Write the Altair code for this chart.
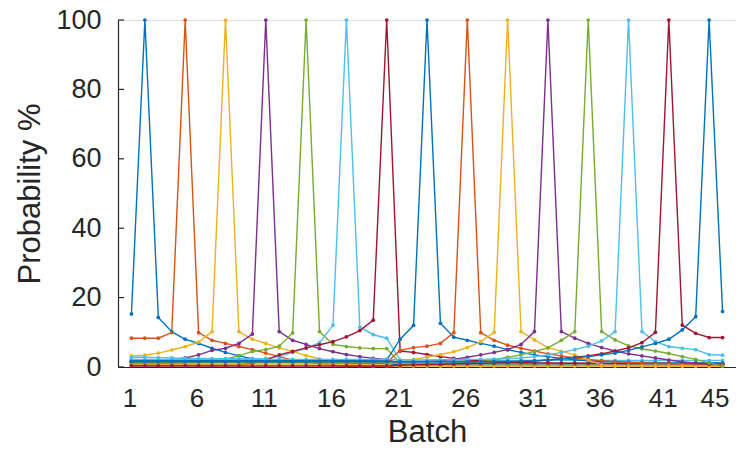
import altair as alt
import pandas as pd

batches = list(range(1, 46))

s1 = [15.3, 100, 14.3, 10.2, 8.0, 6.8, 5.4, 4.2, 3.2, 2.4, 1.9, 1.6, 1.4, 1.3, 1.2, 1.2, 1.1, 1.1, 1.0, 1.0,
      0.5, 0.5, 0.5, 0.5, 0.5, 0.5, 0.5, 0.5, 0.5, 0.5, 0.5, 0.5, 0.5, 0.5, 0.5, 0.5, 0.5, 0.5, 0.5, 0.5, 0.5, 0.5, 0.5, 0.5, 0.5]
s2 = [8.3, 8.3, 8.3, 9.9, 100, 9.9, 7.7, 6.8, 5.9, 5.0, 4.0, 3.0, 2.0, 1.5, 1.0, 0.5, 0.3, 0.3, 0.3, 0.3,
      0.4, 0.4, 0.4, 0.4, 0.4, 0.4, 0.4, 0.4, 0.4, 0.4, 0.4, 0.4, 0.4, 0.4, 0.4, 0.4, 0.4, 0.4, 0.4, 0.4, 0.4, 0.4, 0.4, 0.4, 0.4]
s3 = [3.2, 3.4, 4.0, 4.9, 5.9, 7.2, 10.2, 100, 10.2, 8.0, 6.8, 5.5, 4.5, 3.3, 2.3, 1.5, 0.9, 0.5, 0.3, 0.3,
      0.3, 0.3, 0.3, 0.3, 0.3, 0.3, 0.3, 0.3, 0.3, 0.3, 0.3, 0.3, 0.3, 0.3, 0.3, 0.3, 0.3, 0.3, 0.3, 0.3, 0.3, 0.3, 0.3, 0.3, 0.3]
s4 = [1.5, 1.6, 1.8, 2.1, 2.6, 3.5, 4.8, 5.4, 6.8, 9.5, 100, 10.2, 7.7, 6.5, 5.3, 4.4, 3.6, 3.0, 2.5, 2.2,
      1.0, 1.0, 1.0, 1.0, 1.0, 1.0, 1.0, 1.0, 1.0, 1.0, 1.0, 1.0, 1.0, 1.0, 1.0, 1.0, 1.0, 1.0, 1.0, 1.0, 1.0, 1.0, 1.0, 1.0, 1.0]
s5 = [1.0, 1.0, 1.1, 1.1, 1.2, 1.3, 1.6, 2.3, 3.2, 4.5, 5.0, 6.0, 9.8, 100, 10.2, 6.5, 5.9, 5.5, 5.3, 5.3,
      1.0, 0.9, 0.9, 0.9, 0.9, 0.9, 0.9, 0.9, 0.9, 0.9, 0.9, 0.9, 0.9, 0.9, 0.9, 0.9, 0.9, 0.9, 0.9, 0.9, 0.9, 0.9, 0.9, 0.9, 0.9]
s6 = [2.8, 2.8, 2.7, 2.6, 2.5, 2.5, 2.4, 2.4, 2.4, 2.4, 2.5, 3.0, 4.2, 5.4, 7.0, 12.0, 100, 11.5, 9.3, 8.3,
      2.0, 1.9, 1.9, 1.9, 1.9, 1.9, 1.9, 1.9, 1.9, 1.9, 1.9, 1.9, 1.9, 1.9, 1.9, 1.9, 1.9, 1.9, 1.9, 1.9, 1.9, 1.9, 1.9, 1.9, 1.9]
s7 = [0.5, 0.5, 0.5, 0.5, 0.5, 0.5, 0.5, 0.5, 0.6, 1.0, 2.0, 3.5, 4.5, 5.5, 6.4, 7.3, 8.7, 10.5, 13.5, 100,
      4.6, 4.2, 3.6, 3.0, 2.5, 2.1, 1.8, 1.6, 1.4, 1.3, 1.2, 1.2, 1.1, 1.1, 1.1, 1.0, 1.0, 1.0, 1.0, 1.0, 1.0, 1.0, 1.0, 1.0, 1.0]
s8 = [1.8, 1.8, 1.8, 1.8, 1.8, 1.8, 1.8, 1.8, 1.8, 1.8, 1.8, 1.8, 1.8, 1.8, 1.8, 1.8, 1.8, 1.8, 1.9, 2.0,
      8.0, 12.0, 100, 12.6, 8.6, 7.7, 6.8, 6.0, 5.0, 4.2, 3.5, 3.0, 2.5, 2.1, 1.8, 1.6, 1.5, 1.4, 1.3, 1.3, 1.2, 1.2, 1.2, 1.2, 1.2]
s9 = [1.3, 1.3, 1.3, 1.3, 1.3, 1.3, 1.3, 1.3, 1.3, 1.3, 1.3, 1.3, 1.3, 1.3, 1.3, 1.3, 1.3, 1.3, 1.3, 1.3,
      4.8, 5.6, 6.0, 6.8, 9.9, 100, 9.9, 7.7, 6.3, 5.4, 4.6, 3.8, 3.2, 2.6, 2.2, 1.8, 1.5, 1.3, 1.2, 1.1, 1.0, 0.9, 0.8, 0.8, 0.8]
s10 = [0.6, 0.6, 0.6, 0.6, 0.6, 0.6, 0.6, 0.6, 0.6, 0.6, 0.6, 0.6, 0.6, 0.6, 0.6, 0.6, 0.6, 0.6, 0.6, 0.6,
       1.5, 2.2, 2.9, 3.6, 4.4, 5.6, 7.3, 10.0, 100, 10.2, 7.8, 5.6, 4.5, 3.5, 2.0, 0.6, 0.4, 0.3, 0.3, 0.3, 0.3, 0.3, 0.3, 0.3, 0.3]
s11 = [1.5, 1.5, 1.5, 1.5, 1.5, 1.5, 1.5, 1.5, 1.5, 1.5, 1.5, 1.5, 1.5, 1.5, 1.5, 1.5, 1.5, 1.5, 1.5, 1.5,
       1.5, 1.5, 1.6, 1.8, 2.2, 2.8, 3.5, 4.2, 5.0, 6.5, 10.2, 100, 10.2, 8.3, 6.8, 5.6, 4.6, 3.8, 3.2, 2.6, 2.0, 1.5, 1.1, 0.8, 0.7]
s12 = [1.2, 1.2, 1.2, 1.2, 1.2, 1.2, 1.2, 1.2, 1.2, 1.2, 1.2, 1.2, 1.2, 1.2, 1.2, 1.2, 1.2, 1.2, 1.2, 1.2,
       1.0, 1.0, 1.0, 1.1, 1.2, 1.3, 1.5, 2.0, 2.8, 3.5, 4.5, 5.5, 7.7, 10.2, 100, 10.2, 7.8, 6.1, 5.2, 4.6, 3.9, 3.0, 2.2, 1.2, 0.3]
s13 = [2.2, 2.2, 2.2, 2.2, 2.2, 2.2, 2.2, 2.2, 2.2, 2.2, 2.2, 2.2, 2.2, 2.2, 2.2, 2.2, 2.2, 2.2, 2.2, 2.2,
       2.0, 2.0, 2.0, 2.1, 2.1, 2.2, 2.2, 2.3, 2.4, 2.6, 3.0, 3.5, 4.2, 5.0, 6.0, 7.5, 10.2, 100, 10.2, 7.3, 5.9, 5.4, 5.0, 3.6, 3.4]
s14 = [0.3, 0.3, 0.3, 0.3, 0.3, 0.3, 0.3, 0.3, 0.3, 0.3, 0.3, 0.3, 0.3, 0.3, 0.3, 0.3, 0.3, 0.3, 0.3, 0.3,
       0.5, 0.6, 0.7, 0.8, 0.9, 1.0, 1.1, 1.2, 1.3, 1.5, 1.7, 2.0, 2.4, 2.8, 3.2, 3.8, 4.6, 5.5, 7.0, 10.0, 100, 12.1, 9.7, 8.5, 8.5]
s15 = [1.6, 1.6, 1.6, 1.6, 1.6, 1.6, 1.6, 1.6, 1.6, 1.6, 1.6, 1.6, 1.6, 1.6, 1.6, 1.6, 1.6, 1.6, 1.6, 1.6,
       1.5, 1.5, 1.5, 1.5, 1.5, 1.5, 1.5, 1.6, 1.6, 1.7, 1.8, 2.0, 2.3, 2.7, 3.0, 3.5, 4.0, 4.8, 5.8, 6.8, 8.0, 10.7, 14.5, 100, 16.0]

series = [s1, s2, s3, s4, s5, s6, s7, s8, s9, s10, s11, s12, s13, s14, s15]
names = [f"S{i}" for i in range(1, 16)]
palette = ["#0072BD", "#D95319", "#EDB120", "#7E2F8E", "#77AC30", "#4DBEEE", "#A2142F"]
color_range = [palette[i % 7] for i in range(len(names))]

x_ticks = [1, 6, 11, 16, 21, 26, 31, 36, 41, 45]
y_ticks = [0, 20, 40, 60, 80, 100]

rows = []
for n, vals in zip(names, series):
    for b, v in zip(batches, vals):
        rows.append({"batch": b, "prob": v, "series": n})
df = pd.DataFrame(rows)

FONT = "Liberation Sans"
INK = "#262626"

xscale = alt.Scale(domain=[0, 46], nice=False, zero=False)
yscale = alt.Scale(domain=[0, 100], nice=False)

x_label_offset = {
    "condition": [
        {"test": "datum.value == 45", "value": -8},
        {"test": "datum.value == 41", "value": -6},
    ],
    "value": -2,
}

lines = alt.Chart(df).mark_line(
    strokeWidth=1.4, point=alt.OverlayMarkDef(filled=True, size=14)
).encode(
    x=alt.X("batch:Q", scale=xscale,
            axis=alt.Axis(values=x_ticks, title="Batch", grid=False, tickSize=0,
                          labelPadding=18, titlePadding=6, labelFontSize=26, titleFontSize=31,
                          labelFont=FONT, titleFont=FONT, titleFontWeight="normal",
                          labelColor=INK, titleColor=INK, domainColor=INK, domainWidth=1.2,
                          labelFlush=False, labelOffset=x_label_offset)),
    y=alt.Y("prob:Q", scale=yscale,
            axis=alt.Axis(values=y_ticks, title="Probability %", grid=False, tickSize=0,
                          labelPadding=17, titlePadding=9, labelFontSize=27, titleFontSize=31,
                          labelFont=FONT, titleFont=FONT, titleFontWeight="normal",
                          labelColor=INK, titleColor=INK, domainColor=INK, domainWidth=1.2)),
    color=alt.Color("series:N", scale=alt.Scale(domain=names, range=color_range), legend=None),
    detail="series:N",
)

ticks = alt.Chart(pd.DataFrame({"v": y_ticks})).mark_rule(color=INK, strokeWidth=1.2).encode(
    y=alt.Y("v:Q", scale=yscale),
    x=alt.value(0),
    x2=alt.value(6),
)

chart = alt.layer(lines, ticks).properties(
    width=618, height=347,
    autosize=alt.AutoSizeParams(type="none"),
    padding={"left": 118, "top": 20, "right": 0, "bottom": 83},
).configure_view(stroke=None).configure(background="white")

chart.save("out.html", embed_options={"renderer": "svg", "actions": False})
